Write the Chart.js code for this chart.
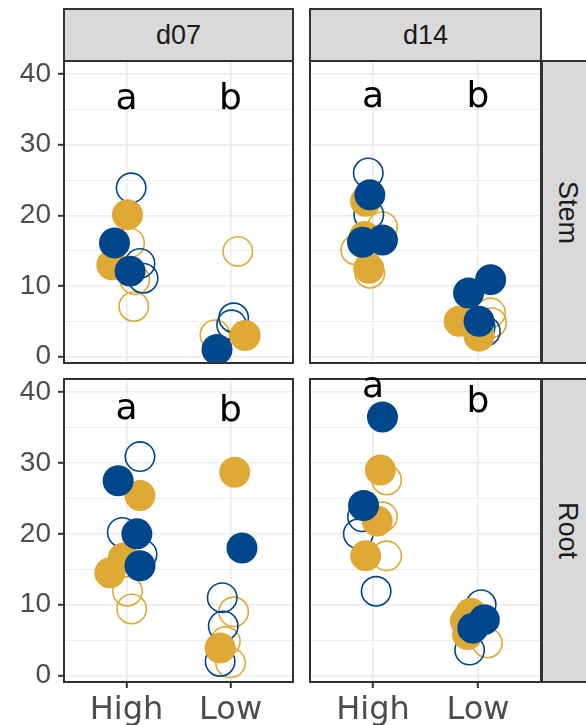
<!DOCTYPE html>
<html>
<head>
<meta charset="utf-8">
<script src="https://cdn.jsdelivr.net/npm/chart.js@4.4.1/dist/chart.umd.min.js"></script>
<style>
  html, body { margin: 0; padding: 0; background: #fff; }
  #wrap { position: relative; width: 586px; height: 725px; overflow: hidden; }
  canvas { position: absolute; }
  .strip {
    position: absolute; box-sizing: border-box;
    background: #d9d9d9; border: 2px solid #333; color: #1a1a1a;
    font-family: "Liberation Sans", Arial, sans-serif; font-size: 27px;
    display: flex; align-items: center; justify-content: center;
  }
  .strip.row span { transform: rotate(90deg); white-space: nowrap; }
</style>
</head>
<body>
<div id="wrap">
  <canvas id="p-d07-stem" width="300" height="370" style="left:0;top:0"></canvas>
  <canvas id="p-d14-stem" width="250" height="370" style="left:300px;top:0"></canvas>
  <canvas id="p-d07-root" width="300" height="355" style="left:0;top:370px"></canvas>
  <canvas id="p-d14-root" width="250" height="355" style="left:300px;top:370px"></canvas>
  <div class="strip" style="left:63px;top:8px;width:231px;height:54px">d07</div>
  <div class="strip" style="left:309px;top:8px;width:233px;height:54px">d14</div>
  <div class="strip row" style="left:541px;top:60px;width:54px;height:304px"><span>Stem</span></div>
  <div class="strip row" style="left:541px;top:378px;width:54px;height:305px"><span>Root</span></div>
</div>
<script>
// categories and ticks
const xCategories = ['High', 'Low'];
const yTicks = [0, 10, 20, 30, 40];
const yGrid = [0, 5, 10, 15, 20, 25, 30, 35, 40];

// points: [jittered x (1 = High, 2 = Low), value]
const d07StemBlueFilled = [[0.885, 16.1], [1.035, 12.1], [1.87, 1.0]];
const d07StemBlueOpen = [[1.045, 23.9], [1.13, 13.2], [1.16, 11.1], [2.03, 5.5], [2.01, 4.5]];
const d07StemGoldFilled = [[1.01, 20.1], [0.86, 13.0], [2.14, 3.0]];
const d07StemGoldOpen = [[1.03, 16.1], [1.08, 10.9], [1.07, 7.1], [2.07, 14.9], [1.85, 3.1]];

const d14StemBlueFilled = [[0.97, 22.9], [0.9, 16.2], [1.09, 16.5], [2.12, 10.9], [1.91, 9.0], [2.01, 5.0]];
const d14StemBlueOpen = [[0.955, 26.0], [0.96, 20.1], [2.07, 3.6], [2.02, 4.2]];
const d14StemGoldFilled = [[0.93, 22.0], [0.92, 17.0], [0.96, 12.5], [1.82, 5.0], [2.01, 2.9]];
const d14StemGoldOpen = [[1.09, 18.4], [0.835, 15.1], [0.97, 11.8], [2.12, 6.2], [2.13, 4.8]];

const d07RootBlueFilled = [[0.92, 27.5], [1.10, 20.0], [1.13, 15.5], [2.11, 18.0]];
const d07RootBlueOpen = [[1.13, 30.9], [0.96, 20.2], [1.15, 17.1], [1.92, 11.0], [1.93, 7.0], [1.90, 2.0]];
const d07RootGoldFilled = [[1.13, 25.4], [0.97, 16.6], [0.84, 14.5], [2.04, 28.7], [1.90, 3.9]];
const d07RootGoldOpen = [[1.01, 11.9], [1.05, 9.4], [2.03, 9.0], [1.95, 4.8], [2.0, 1.8]];

const d14RootBlueFilled = [[1.09, 36.5], [0.91, 24.0], [2.06, 7.9], [1.95, 6.7]];
const d14RootBlueOpen = [[0.90, 22.4], [0.86, 20.0], [1.03, 11.9], [2.03, 10.0], [1.92, 3.6]];
const d14RootGoldFilled = [[1.07, 29.0], [1.04, 21.8], [0.93, 16.9], [1.93, 8.8], [1.88, 7.7], [1.90, 5.8]];
const d14RootGoldOpen = [[1.13, 27.6], [1.09, 22.4], [1.13, 16.9], [2.09, 4.6]];

// significance letters and the height they sit at
const letters = ['a', 'b'];
const d07StemLetterY = [35.0, 35.0];
const d14StemLetterY = [35.3, 35.3];
const d07RootLetterY = [36.2, 35.9];
const d14RootLetterY = [39.3, 37.2];

const BLUE = '#00468B';
const GOLD = '#DFA936';
const Y_MIN = -0.9, Y_MAX = 41.85;

const panelDecor = {
    id: 'panelDecor',
    afterDraw(chart, args, opts) {
        const { ctx, chartArea: a, scales } = chart;
        ctx.save();
        ctx.strokeStyle = '#333';
        ctx.lineWidth = 2;
        ctx.strokeRect(a.left, a.top, a.right - a.left, a.bottom - a.top);
        ctx.fillStyle = '#000';
        ctx.font = '36px "DejaVu Sans"';
        ctx.textAlign = 'center';
        ctx.textBaseline = 'alphabetic';
        letters.forEach((t, i) => {
            ctx.fillText(t, scales.x.getPixelForValue(i + 1), scales.y.getPixelForValue(opts.heights[i]));
        });
        ctx.restore();
    }
};

function toPoints(arr) {
    return arr.map(([x, y]) => ({ x, y }));
}

function filled(arr, color) {
    return { data: toPoints(arr), pointRadius: 15.5, pointBackgroundColor: color, pointBorderWidth: 0, pointBorderColor: color, clip: 0 };
}

function open(arr, color) {
    return { data: toPoints(arr), pointRadius: 14.7, pointBackgroundColor: 'rgba(0,0,0,0)', pointBorderWidth: 1.6, pointBorderColor: color, clip: 0 };
}

function makePanel(id, cfg) {
    const ctx = document.getElementById(id);
    return new Chart(ctx, {
        type: 'scatter',
        data: {
            datasets: [
                filled(cfg.blueFilled, BLUE),
                filled(cfg.goldFilled, GOLD),
                open(cfg.blueOpen, BLUE),
                open(cfg.goldOpen, GOLD)
            ]
        },
        plugins: [panelDecor],
        options: {
            responsive: false,
            animation: false,
            events: [],
            layout: { padding: cfg.padding, autoPadding: false },
            plugins: {
                legend: { display: false },
                tooltip: { enabled: false },
                panelDecor: { heights: cfg.letterY }
            },
            scales: {
                x: {
                    type: 'linear',
                    min: 0.4,
                    max: 2.6,
                    afterBuildTicks: s => { s.ticks = xCategories.map((_, i) => ({ value: i + 1 })); },
                    afterFit: s => { s.height = cfg.showX ? 43 : 0; s.paddingLeft = 0; s.paddingRight = 0; },
                    ticks: {
                        display: cfg.showX,
                        autoSkip: false,
                        maxRotation: 0,
                        padding: 3,
                        color: '#4d4d4d',
                        font: { family: 'DejaVu Sans', size: 32 },
                        callback: v => xCategories[Math.round(v) - 1]
                    },
                    grid: { color: '#ebebeb', lineWidth: 1.6, drawTicks: cfg.showX, tickLength: 6, tickWidth: 2, tickColor: '#333' },
                    border: { display: false }
                },
                y: {
                    type: 'linear',
                    min: Y_MIN,
                    max: Y_MAX,
                    afterBuildTicks: s => { s.ticks = yGrid.map(v => ({ value: v })); },
                    afterFit: s => { s.width = cfg.showY ? 64 : 0; s.paddingTop = 0; s.paddingBottom = 0; },
                    ticks: {
                        display: cfg.showY,
                        autoSkip: false,
                        padding: 7,
                        color: '#4d4d4d',
                        font: { family: 'Liberation Sans', size: 28 },
                        callback: v => yTicks.includes(v) ? String(v) : ''
                    },
                    grid: {
                        color: '#ebebeb',
                        lineWidth: c => yTicks.includes(c.tick.value) ? 1.6 : 0.9,
                        drawTicks: cfg.showY,
                        tickLength: 6,
                        tickWidth: 2,
                        tickColor: c => yTicks.includes(c.tick.value) ? '#333' : 'rgba(0,0,0,0)'
                    },
                    border: { display: false }
                }
            }
        }
    });
}

makePanel('p-d07-stem', {
    blueFilled: d07StemBlueFilled, blueOpen: d07StemBlueOpen,
    goldFilled: d07StemGoldFilled, goldOpen: d07StemGoldOpen,
    letterY: d07StemLetterY, showX: false, showY: true,
    padding: { top: 61, right: 7, bottom: 7, left: 0 }
});
makePanel('p-d14-stem', {
    blueFilled: d14StemBlueFilled, blueOpen: d14StemBlueOpen,
    goldFilled: d14StemGoldFilled, goldOpen: d14StemGoldOpen,
    letterY: d14StemLetterY, showX: false, showY: false,
    padding: { top: 61, right: 9, bottom: 7, left: 10 }
});
makePanel('p-d07-root', {
    blueFilled: d07RootBlueFilled, blueOpen: d07RootBlueOpen,
    goldFilled: d07RootGoldFilled, goldOpen: d07RootGoldOpen,
    letterY: d07RootLetterY, showX: true, showY: true,
    padding: { top: 9, right: 7, bottom: 0, left: 0 }
});
makePanel('p-d14-root', {
    blueFilled: d14RootBlueFilled, blueOpen: d14RootBlueOpen,
    goldFilled: d14RootGoldFilled, goldOpen: d14RootGoldOpen,
    letterY: d14RootLetterY, showX: true, showY: false,
    padding: { top: 9, right: 9, bottom: 0, left: 10 }
});
</script>
</body>
</html>
